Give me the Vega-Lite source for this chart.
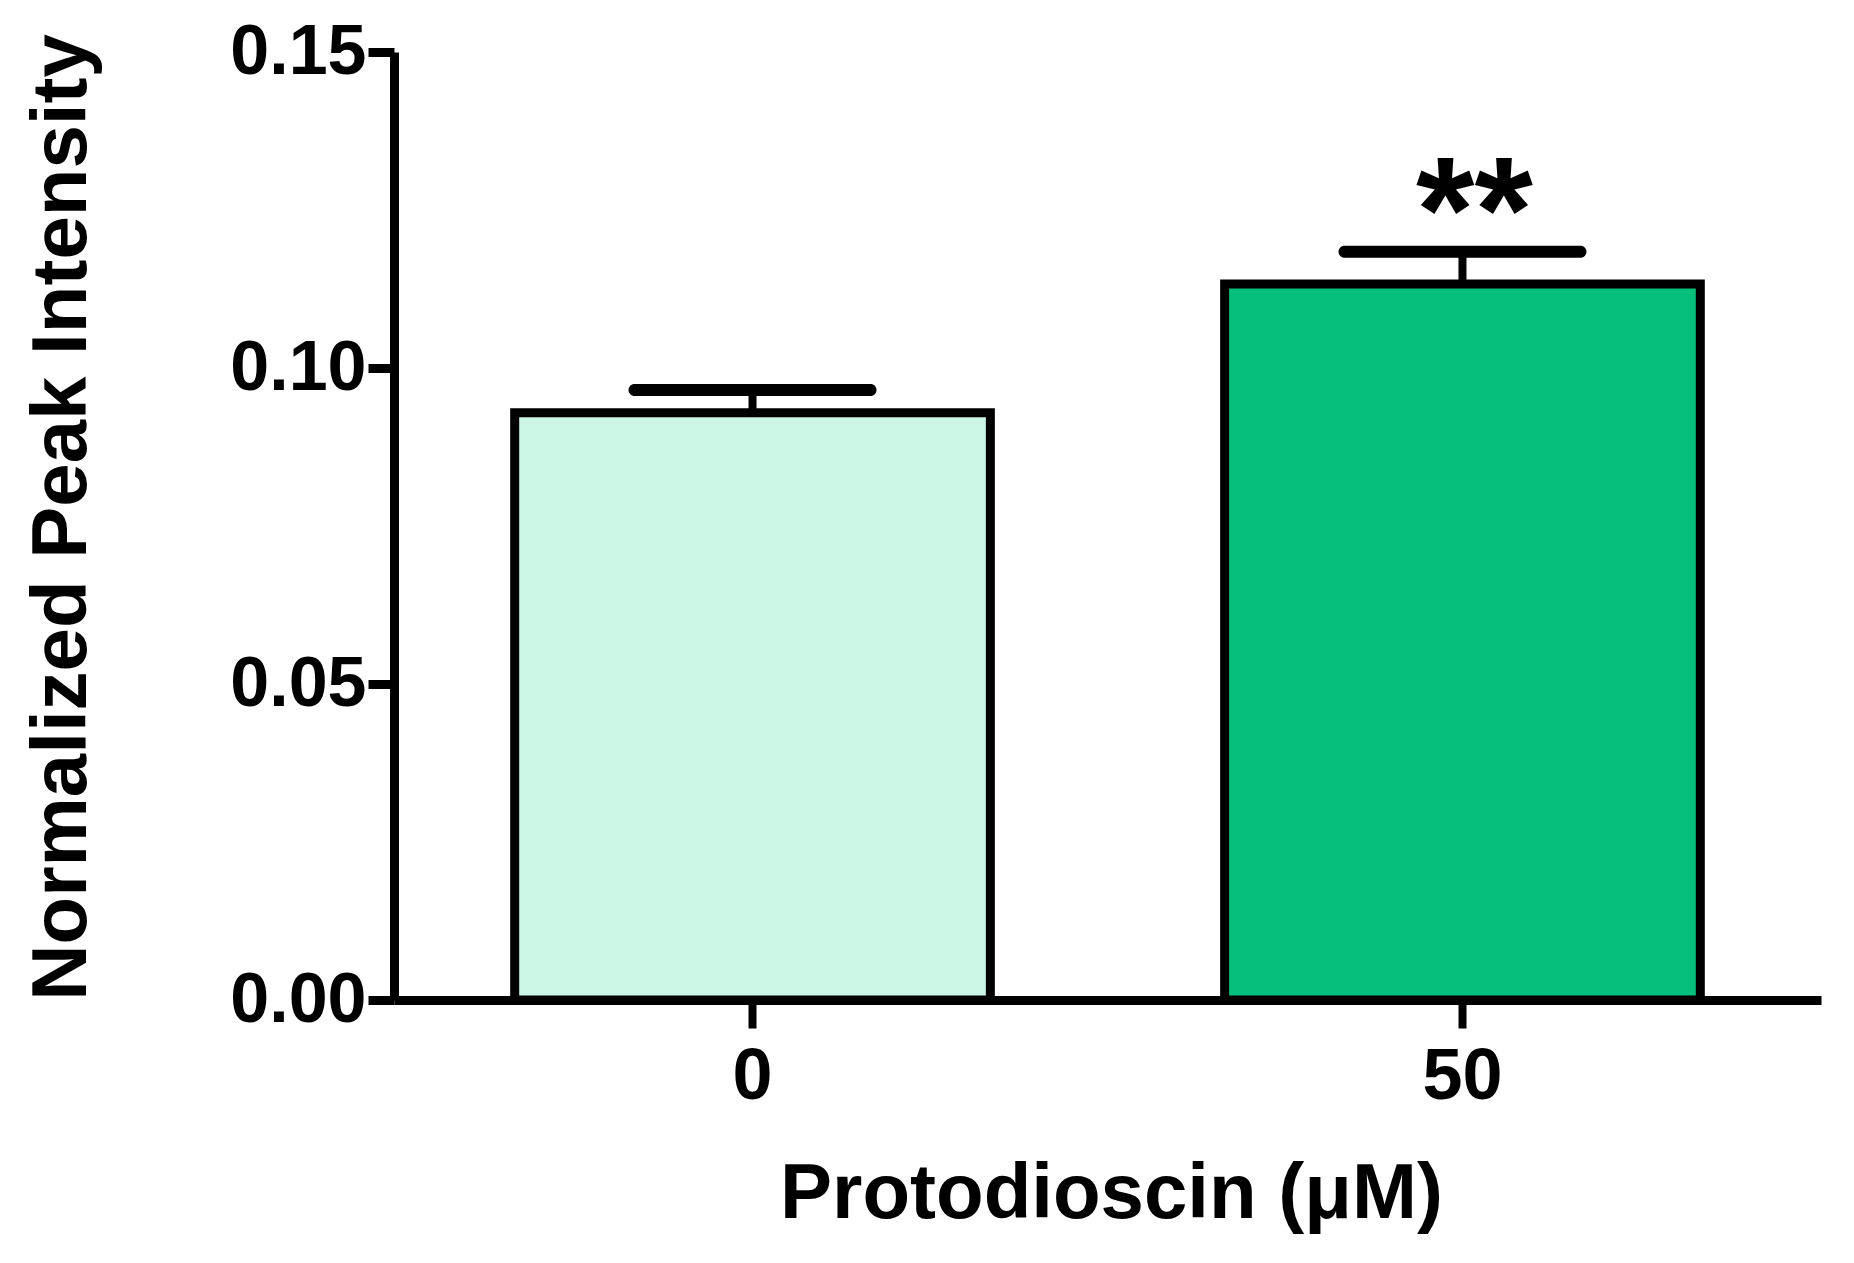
{
  "$schema": "https://vega.github.io/schema/vega-lite/v6.json",
  "autosize": {"type": "none"},
  "width": 1427,
  "height": 948,
  "padding": {"left": 394, "top": 52, "right": 33, "bottom": 263},
  "background": "white",
  "config": {"view": {"stroke": null}},
  "data": {"values": [
    {"dose": "0", "mean": 0.0929, "upper": 0.0965, "sig": ""},
    {"dose": "50", "mean": 0.1133, "upper": 0.1184, "sig": "**"}
  ]},
  "encoding": {
    "x": {
      "field": "dose", "type": "nominal", "sort": ["0", "50"],
      "scale": {"paddingInner": 0.33, "paddingOuter": 0.17},
      "axis": {
        "title": "Protodioscin (μM)",
        "labelAngle": 0,
        "domainColor": "black", "domainWidth": 9,
        "tickColor": "black", "tickWidth": 8, "tickSize": 28,
        "labelFont": "Liberation Sans", "labelFontWeight": "bold", "labelFontSize": 72,
        "labelColor": "black", "labelBaseline": "alphabetic", "labelPadding": 70,
        "titleFont": "Liberation Sans", "titleFontWeight": "bold", "titleFontSize": 78,
        "titleColor": "black", "titleBaseline": "alphabetic", "titleX": 717, "titleY": 217
      }
    }
  },
  "layer": [
    {
      "mark": {"type": "bar", "stroke": "black", "strokeWidth": 9},
      "encoding": {
        "y": {
          "field": "mean", "type": "quantitative",
          "scale": {"domain": [0, 0.15], "nice": false},
          "axis": {
            "title": "Normalized Peak Intensity",
            "values": [0, 0.05, 0.1, 0.15], "format": ".2f", "grid": false,
            "domainColor": "black", "domainWidth": 9,
            "tickColor": "black", "tickWidth": 9, "tickSize": 26,
            "labelFont": "Liberation Sans", "labelFontWeight": "bold", "labelFontSize": 70,
            "labelColor": "black", "labelPadding": 2,
            "titleFont": "Liberation Sans", "titleFontWeight": "bold", "titleFontSize": 78,
            "titleColor": "black", "titleBaseline": "alphabetic", "titleAngle": -90,
            "titleX": -309, "titleY": 465
          }
        },
        "color": {
          "field": "dose", "type": "nominal",
          "scale": {"domain": ["0", "50"], "range": ["#CCF7E6", "#06BF7A"]},
          "legend": null
        }
      }
    },
    {
      "mark": {"type": "rule", "color": "black", "strokeWidth": 8},
      "encoding": {
        "y": {"field": "mean", "type": "quantitative"},
        "y2": {"field": "upper"}
      }
    },
    {
      "mark": {"type": "tick", "color": "black", "size": 248, "thickness": 12, "cornerRadius": 6, "opacity": 1},
      "encoding": {
        "y": {"field": "upper", "type": "quantitative"}
      }
    },
    {
      "mark": {"type": "text", "font": "Liberation Sans", "fontWeight": "bold", "fontSize": 150, "baseline": "alphabetic", "dy": 10, "dx": 12, "color": "black"},
      "encoding": {
        "y": {"field": "upper", "type": "quantitative"},
        "text": {"field": "sig"}
      }
    }
  ]
}
